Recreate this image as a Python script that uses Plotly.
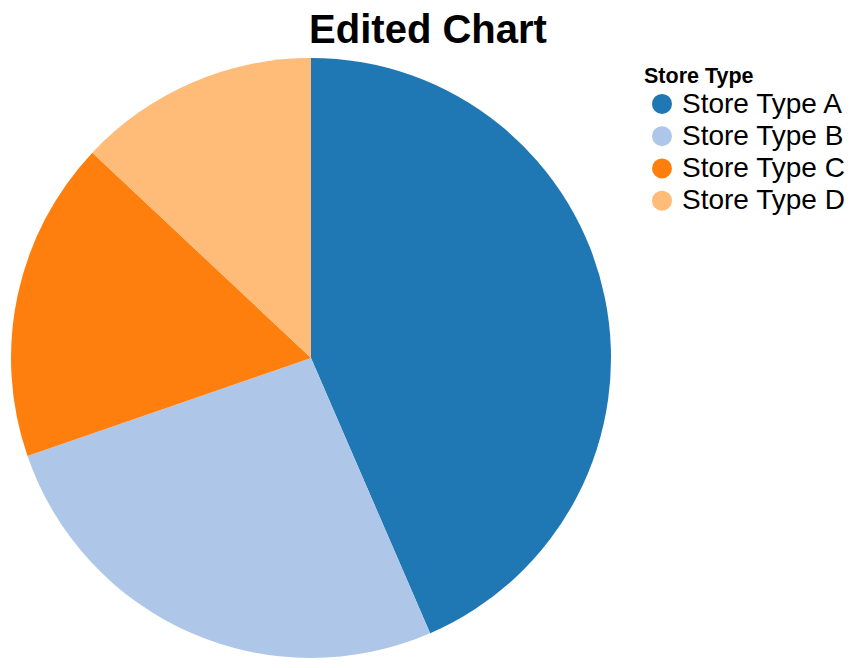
import plotly.graph_objects as go

categories = ["Store Type A", "Store Type B", "Store Type C", "Store Type D"]
values = [43.5, 26.2, 17.3, 13.0]
colors = ["#1f77b4", "#aec7e8", "#ff7f0e", "#ffbb78"]

W, H = 856, 668
OFF = 8  # page body margin offset
cx, cy, r = 311 - OFF, 358 - OFF, 300

fig = go.Figure()
fig.add_trace(go.Pie(
    labels=categories, values=values, sort=False, direction="clockwise",
    rotation=0, marker=dict(colors=colors, line=dict(width=0)),
    textinfo="none", showlegend=False, hoverinfo="label+value",
    domain=dict(x=[(cx - r) / W, (cx + r) / W], y=[(H - cy - r) / H, (H - cy + r) / H]),
))
for c, col in zip(categories, colors):
    fig.add_trace(go.Scatter(x=[None], y=[None], mode="markers",
                             name=f'<span style="font-size:28px">{c}</span>',
                             marker=dict(symbol="circle", size=16, color=col,
                                         line=dict(color=col, width=4))))

fig.update_layout(
    width=W, height=H, margin=dict(l=0, r=0, t=0, b=0),
    paper_bgcolor="white", plot_bgcolor="white",
    font=dict(family="Liberation Sans, Arial, sans-serif", color="black"),
    title=dict(text="<b>Edited Chart</b>", x=(428 - OFF) / W, xanchor="center", y=1 - 21 / H, yanchor="middle",
               font=dict(size=40, color="black")),
    xaxis=dict(visible=False), yaxis=dict(visible=False),
    legend=dict(x=634 / W, y=1 - 15 / H, xanchor="left", yanchor="top",
                title=dict(text='<b><span style="font-size:21.5px">Store Type</span></b>',
                           font=dict(size=46), side="top"),
                font=dict(size=22.5), itemsizing="trace", tracegroupgap=0,
                bgcolor="rgba(0,0,0,0)"),
)
fig.write_html("out.html")
